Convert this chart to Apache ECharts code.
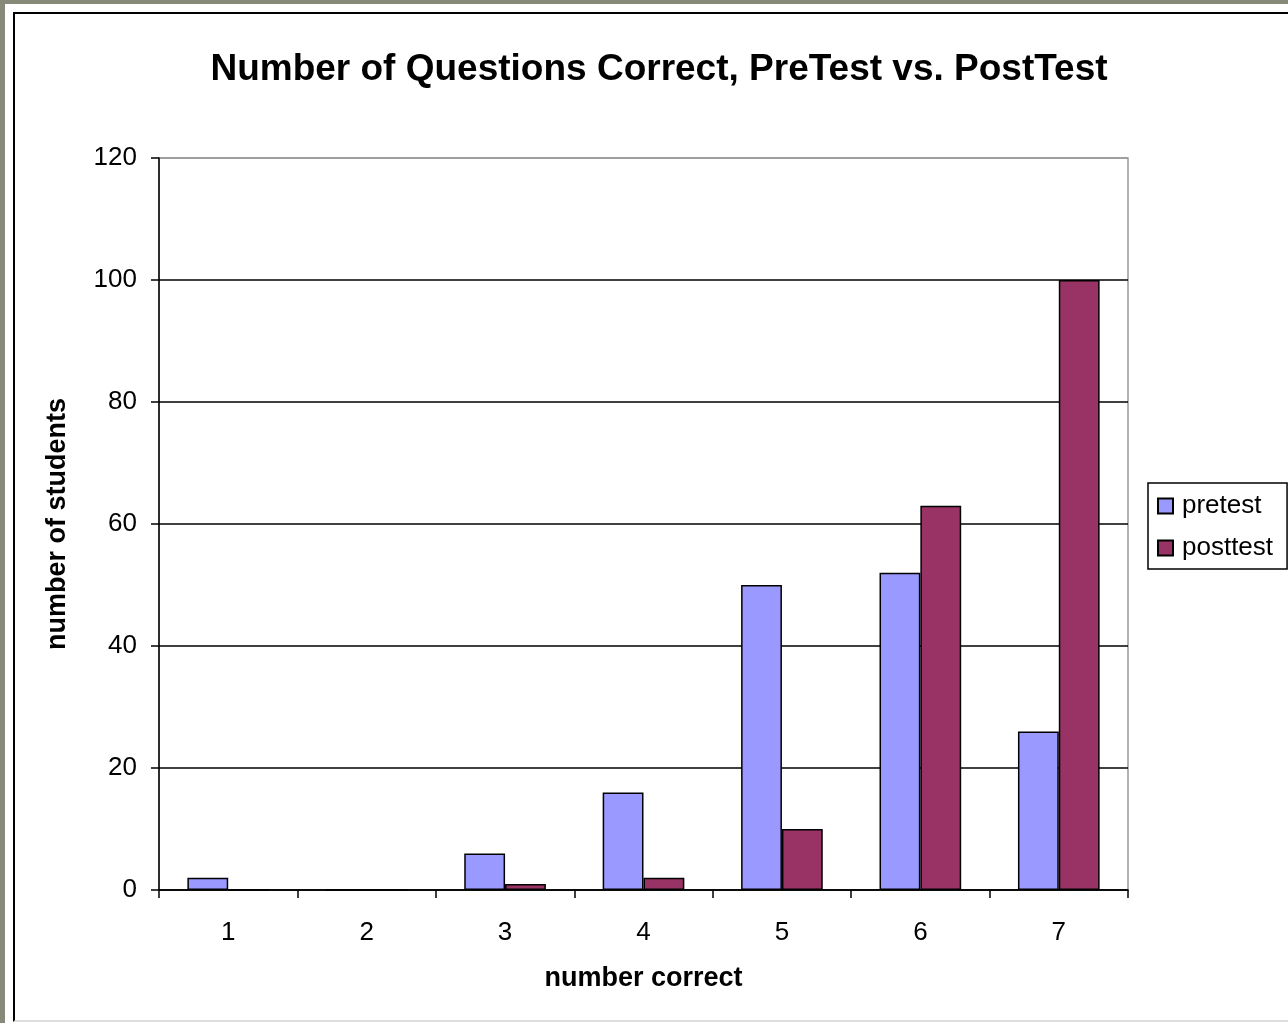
<!DOCTYPE html>
<html>
<head>
<meta charset="utf-8">
<script src="https://cdn.jsdelivr.net/npm/echarts@6/dist/echarts.min.js"></script>
<style>
  html, body { margin: 0; padding: 0; width: 1288px; height: 1023px; overflow: hidden; background: #878a78; }
  #paper { position: absolute; left: 5px; top: 4px; width: 1300px; height: 1030px; background: #fff; }
  #frame { position: absolute; left: 13px; top: 12px; width: 1300px; height: 1006px; border-left: 2px solid #000; border-top: 2px solid #000; border-bottom: 2px solid #ddd; }
  #chart { position: absolute; left: 0; top: 0; width: 1288px; height: 1023px; }
</style>
</head>
<body>
<div id="paper"></div>
<div id="frame"></div>
<div id="chart"></div>
<script>
// 类目与数据
const categories = ['1', '2', '3', '4', '5', '6', '7'];
const pretest = [2, 0, 6, 16, 50, 52, 26];
const posttest = [0, 0, 1, 2, 10, 63, 100];

const font = 'Liberation Sans, Arial, sans-serif';
const chart = echarts.init(document.getElementById('chart'));

const option = {
  animation: false,
  title: {
    text: 'Number of Questions Correct, PreTest vs. PostTest',
    left: 654,
    top: 46,
    textAlign: 'center',
    textStyle: { fontFamily: font, fontSize: 37, fontWeight: 'bold', color: '#000' }
  },
  legend: {
    orient: 'vertical',
    left: 1148,
    top: 483,
    padding: [10, 14, 8, 9],
    itemGap: 16,
    itemWidth: 15,
    itemHeight: 15,
    icon: 'rect',
    borderColor: '#000',
    borderWidth: 1.5,
    textStyle: { fontFamily: font, fontSize: 26, color: '#000', padding: [0, 0, 0, 4] },
    data: ['pretest', 'posttest']
  },
  grid: {
    left: 159, top: 158, width: 969, height: 732,
    show: true, borderColor: '#999', borderWidth: 1.5
  },
  xAxis: {
    type: 'category',
    data: categories,
    name: 'number correct',
    nameLocation: 'middle',
    nameGap: 75,
    nameTextStyle: { fontFamily: font, fontSize: 27, fontWeight: 'bold', color: '#000' },
    axisLine: { lineStyle: { color: '#000', width: 1.5 } },
    axisTick: { show: true, length: 8, lineStyle: { color: '#000', width: 1.5 } },
    axisLabel: { fontFamily: font, fontSize: 26, color: '#000', margin: 30 }
  },
  yAxis: {
    type: 'value',
    min: 0, max: 120, interval: 20,
    name: 'number of students',
    nameLocation: 'middle',
    nameGap: 88,
    nameTextStyle: { fontFamily: font, fontSize: 27, fontWeight: 'bold', color: '#000' },
    axisLine: { show: true, lineStyle: { color: '#000', width: 1.5 } },
    axisTick: { show: true, length: 8, lineStyle: { color: '#000', width: 1.5 } },
    axisLabel: { fontFamily: font, fontSize: 26, color: '#000', margin: 22 },
    splitLine: { lineStyle: { color: ['#000', '#000', '#000', '#000', '#000', '#000', '#999'], width: 1.5 } }
  },
  series: [
    {
      name: 'pretest', type: 'bar', data: pretest,
      barGap: '0%', barCategoryGap: '41%',
      itemStyle: { color: '#9999ff', borderColor: '#000', borderWidth: 1.5 }
    },
    {
      name: 'posttest', type: 'bar', data: posttest,
      barGap: '0%', barCategoryGap: '41%',
      itemStyle: { color: '#993366', borderColor: '#000', borderWidth: 1.5 }
    }
  ]
};

chart.setOption(option);
</script>
</body>
</html>
